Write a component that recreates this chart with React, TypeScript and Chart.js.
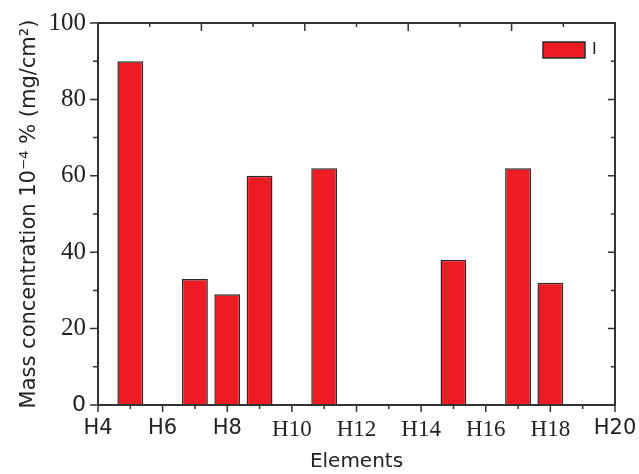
import { useEffect, useRef } from "react";
import { Chart, registerables } from "chart.js";

Chart.register(...registerables);

// Element index (H-number) and mass concentration of each measured element
const elementNumbers = [5, 7, 8, 9, 11, 15, 17, 18];
const massConcentration = [90, 33, 29, 60, 62, 38, 62, 32];
const seriesLabel = "I";

const xTickValues = [4, 6, 8, 10, 12, 14, 16, 18, 20];
const yTickValues = [0, 20, 40, 60, 80, 100];
const xTitle = "Elements";
const yTitle = "Mass concentration 10\u207B\u2074 % (mg/cm\u00B2)";

const SERIF = "'Liberation Serif', serif";
const SANS = "'DejaVu Sans', sans-serif";
const AXIS_COLOR = "#333";
const BAR_FILL = "#ED1C24";
const BAR_EDGE = "#2a2a2a";

// Frame around the plot plus major/minor tick marks on all four sides
const frameTicks = {
  id: "frameTicks",
  afterDraw(chart: any) {
    const { ctx, chartArea: a, scales } = chart;
    const x = scales.x;
    const y = scales.y;
    ctx.save();
    ctx.strokeStyle = AXIS_COLOR;
    ctx.lineWidth = 2;
    ctx.strokeRect(a.left, a.top, a.right - a.left, a.bottom - a.top);
    ctx.lineWidth = 1.5;
    ctx.beginPath();
    // bottom: outward, major on even H numbers
    for (let v = 4; v <= 20; v += 1) {
      const px = x.getPixelForValue(v);
      const len = v % 2 === 0 ? 7 : 4;
      ctx.moveTo(px, a.bottom);
      ctx.lineTo(px, a.bottom + len);
    }
    // top: inward, ten divisions across the axis
    for (let i = 1; i < 10; i++) {
      const px = x.getPixelForValue(4 + 1.6 * i);
      const len = i % 2 === 0 ? 8 : 4;
      ctx.moveTo(px, a.top);
      ctx.lineTo(px, a.top + len);
    }
    // left: outward; right: inward
    for (let v = 0; v <= 100; v += 10) {
      const py = y.getPixelForValue(v);
      const major = v % 20 === 0;
      ctx.moveTo(a.left, py);
      ctx.lineTo(a.left - (major ? 8 : 5), py);
      if (v > 0 && v < 100) {
        ctx.moveTo(a.right, py);
        ctx.lineTo(a.right - (major ? 7 : 4), py);
      }
    }
    ctx.stroke();
    ctx.restore();
  },
};

// Legend drawn inside the plot, top-right corner
const innerLegend = {
  id: "innerLegend",
  afterDraw(chart: any) {
    const { ctx, chartArea: a } = chart;
    const ds = chart.data.datasets[0];
    const bw = 42;
    const bh = 16;
    const bx = a.right - 72;
    const by = a.top + 19;
    ctx.save();
    ctx.fillStyle = ds.backgroundColor;
    ctx.fillRect(bx, by, bw, bh);
    ctx.strokeStyle = BAR_EDGE;
    ctx.lineWidth = 1.5;
    ctx.strokeRect(bx, by, bw, bh);
    ctx.fillStyle = "#222";
    ctx.font = `16px ${SANS}`;
    ctx.textBaseline = "middle";
    ctx.textAlign = "left";
    ctx.fillText(ds.label, bx + bw + 7, by + bh / 2);
    ctx.restore();
  },
};

export default function App() {
  const canvasRef = useRef<HTMLCanvasElement | null>(null);

  useEffect(() => {
    if (!canvasRef.current) return;
    const points = elementNumbers.map((n, i) => ({ x: n, y: massConcentration[i] }));
    const chart = new Chart(canvasRef.current, {
      type: "bar",
      data: {
        datasets: [
          {
            label: seriesLabel,
            data: points as any,
            backgroundColor: BAR_FILL,
            borderColor: BAR_EDGE,
            borderWidth: 1.5,
            barPercentage: 0.8,
            categoryPercentage: 1,
          },
        ],
      },
      options: {
        responsive: false,
        animation: false,
        layout: { padding: { left: 0, top: 23, right: 24, bottom: 0 } },
        plugins: { legend: { display: false }, tooltip: { enabled: false } },
        scales: {
          x: {
            type: "linear",
            min: 4,
            max: 20,
            offset: false,
            afterFit(scale: any) {
              scale.height = 69;
              scale.paddingLeft = 0;
              scale.paddingRight = 0;
            },
            afterBuildTicks(scale: any) {
              scale.ticks = xTickValues.map((v) => ({ value: v }));
            },
            grid: { display: false, drawTicks: false },
            border: { display: false },
            ticks: {
              padding: 11,
              color: "#222",
              maxRotation: 0,
              autoSkip: false,
              font: (c: any) => {
                const v = c.tick ? c.tick.value : 0;
                return v >= 10 && v <= 18
                  ? { family: SERIF, size: 23 }
                  : { family: SANS, size: 21 };
              },
              callback: (v: any) => "H" + v,
            },
            title: {
              display: true,
              text: xTitle,
              color: "#222",
              font: { family: SANS, size: 20 },
              padding: { top: 0, bottom: 0 },
            },
          },
          y: {
            min: 0,
            max: 100,
            afterFit(scale: any) {
              scale.width = 98;
              scale.paddingTop = 0;
              scale.paddingBottom = 0;
            },
            afterBuildTicks(scale: any) {
              scale.ticks = yTickValues.map((v) => ({ value: v }));
            },
            grid: { display: false, drawTicks: false },
            border: { display: false },
            ticks: {
              padding: 12,
              color: "#222",
              font: (c: any) => {
                const v = c.tick ? c.tick.value : 1;
                return v === 0 ? { family: SANS, size: 22 } : { family: SERIF, size: 25 };
              },
            },
            title: {
              display: true,
              text: yTitle,
              color: "#222",
              font: { family: SANS, size: 21 },
              padding: { top: 17, bottom: 0 },
            },
          },
        },
      },
      plugins: [frameTicks, innerLegend],
    });
    return () => chart.destroy();
  }, []);

  return (
    <div style={{ position: "fixed", left: 0, top: 0, width: 639, height: 474, background: "#fff" }}>
      <canvas ref={canvasRef} width={639} height={474} style={{ display: "block" }} />
    </div>
  );
}
